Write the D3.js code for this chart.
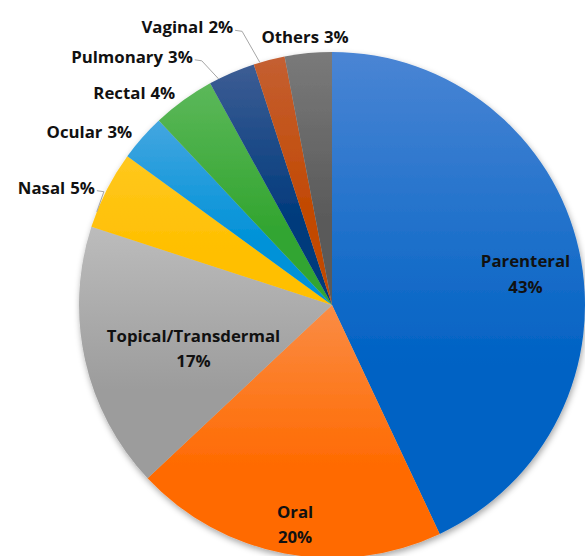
<!DOCTYPE html>
<html>
<head>
<meta charset="utf-8">
<script src="https://cdn.jsdelivr.net/npm/d3@7"></script>
<style>
  body { margin: 0; background: #fff; }
  text { font-family: "Open Sans", Lato, sans-serif; font-weight: bold; font-size: 16.8px; fill: #111; }
</style>
</head>
<body>
<svg id="chart" width="585" height="556"></svg>
<script>
// Share of drug delivery routes, clockwise from 12 o'clock
const routes = ['Parenteral', 'Oral', 'Topical/Transdermal', 'Nasal', 'Ocular', 'Rectal', 'Pulmonary', 'Vaginal', 'Others'];
const shares = [43, 20, 17, 5, 3, 4, 3, 2, 3];
const topColors = ['#4a85d4', '#fa8c45', '#bcbcbc', '#ffc81e', '#44a6e0', '#5cb85a', '#3d5d94', '#c45f32', '#7a7a7a'];
const bottomColors = ['#0062c4', '#ff6a00', '#9c9c9c', '#ffbf00', '#0092d8', '#33a530', '#003a7c', '#c24800', '#5a5a5a'];

// label layout: inside (two lines) or outside (one line + leader)
const inside = ['Parenteral', 'Oral', 'Topical/Transdermal'];
const labelNudge = {
  'Parenteral': [-4, 9],
  'Oral': [1, 17],
  'Topical/Transdermal': [59, -5],
  'Nasal': [-1, 9],
  'Ocular': [-1, 8],
  'Rectal': [-1, 8],
  'Pulmonary': [-34, 1],
  'Vaginal': [-33, -15],
  'Others': [-2, 2]
};

const data = routes.map((name, i) => ({ name, value: shares[i], i }));

const cx = 332, cy = 305, radius = 253;
const svg = d3.select('#chart');
const defs = svg.append('defs');

const shadow = defs.append('filter').attr('id', 'shadow')
  .attr('x', '-10%').attr('y', '-10%').attr('width', '120%').attr('height', '120%');
shadow.append('feDropShadow')
  .attr('dx', 1).attr('dy', 3).attr('stdDeviation', 3)
  .attr('flood-color', '#000').attr('flood-opacity', 0.35);

data.forEach(d => {
  const g = defs.append('linearGradient').attr('id', `grad${d.i}`)
    .attr('x1', 0).attr('y1', 0).attr('x2', 0).attr('y2', 1);
  g.append('stop').attr('offset', '0%').attr('stop-color', topColors[d.i]);
  g.append('stop').attr('offset', '65%').attr('stop-color', bottomColors[d.i]);
  g.append('stop').attr('offset', '100%').attr('stop-color', bottomColors[d.i]);
});

const pie = d3.pie().sort(null).value(d => d.value);
const arcs = pie(data);
const arc = d3.arc().innerRadius(0).outerRadius(radius);
const labelArc = d3.arc().innerRadius(radius * 0.8).outerRadius(radius * 0.8);
const outerArc = d3.arc().innerRadius(radius + 12).outerRadius(radius + 12);
const edgeArc = d3.arc().innerRadius(radius).outerRadius(radius);

const g = svg.append('g').attr('transform', `translate(${cx},${cy})`);

g.append('g').attr('filter', 'url(#shadow)')
  .selectAll('path')
  .data(arcs)
  .join('path')
  .attr('d', arc)
  .attr('fill', d => `url(#grad${d.data.i})`);

// inside labels
const inner = g.selectAll('.inner')
  .data(arcs.filter(d => inside.includes(d.data.name)))
  .join('text')
  .attr('class', 'inner')
  .attr('text-anchor', 'middle')
  .attr('transform', d => {
    const [x, y] = labelArc.centroid(d);
    const [dx, dy] = labelNudge[d.data.name];
    return `translate(${x + dx},${y + dy})`;
  });
inner.append('tspan').attr('x', 0).attr('dy', '-0.15em').text(d => d.data.name);
inner.append('tspan').attr('x', 0).attr('dy', '1.5em').text(d => `${d.data.value}%`);

// outside labels with leader lines
const outside = arcs.filter(d => !inside.includes(d.data.name));
const labelPos = d => {
  const [x, y] = outerArc.centroid(d);
  const [dx, dy] = labelNudge[d.data.name];
  return [x + dx, y + dy];
};

g.selectAll('.leader')
  .data(outside.filter(d => ['Nasal', 'Pulmonary', 'Vaginal'].includes(d.data.name)))
  .join('polyline')
  .attr('class', 'leader')
  .attr('fill', 'none')
  .attr('stroke', '#a6a6a6')
  .attr('stroke-width', 1)
  .attr('points', d => {
    const [x, y] = labelPos(d);
    const edge = edgeArc.centroid({ startAngle: d.startAngle, endAngle: d.startAngle + (d.endAngle - d.startAngle) * 0.4 });
    return [[x + 2, y - 3], [x + 9, y - 2], edge].map(p => p.join(',')).join(' ');
  });

const outerText = g.selectAll('.outer')
  .data(outside)
  .join('text')
  .attr('class', 'outer')
  .attr('text-anchor', d => d.data.name === 'Others' ? 'middle' : 'end')
  .attr('transform', d => `translate(${labelPos(d)})`);
outerText.append('tspan').text(d => d.data.name);
outerText.append('tspan').attr('dx', 5).text(d => `${d.data.value}%`);
</script>
</body>
</html>
